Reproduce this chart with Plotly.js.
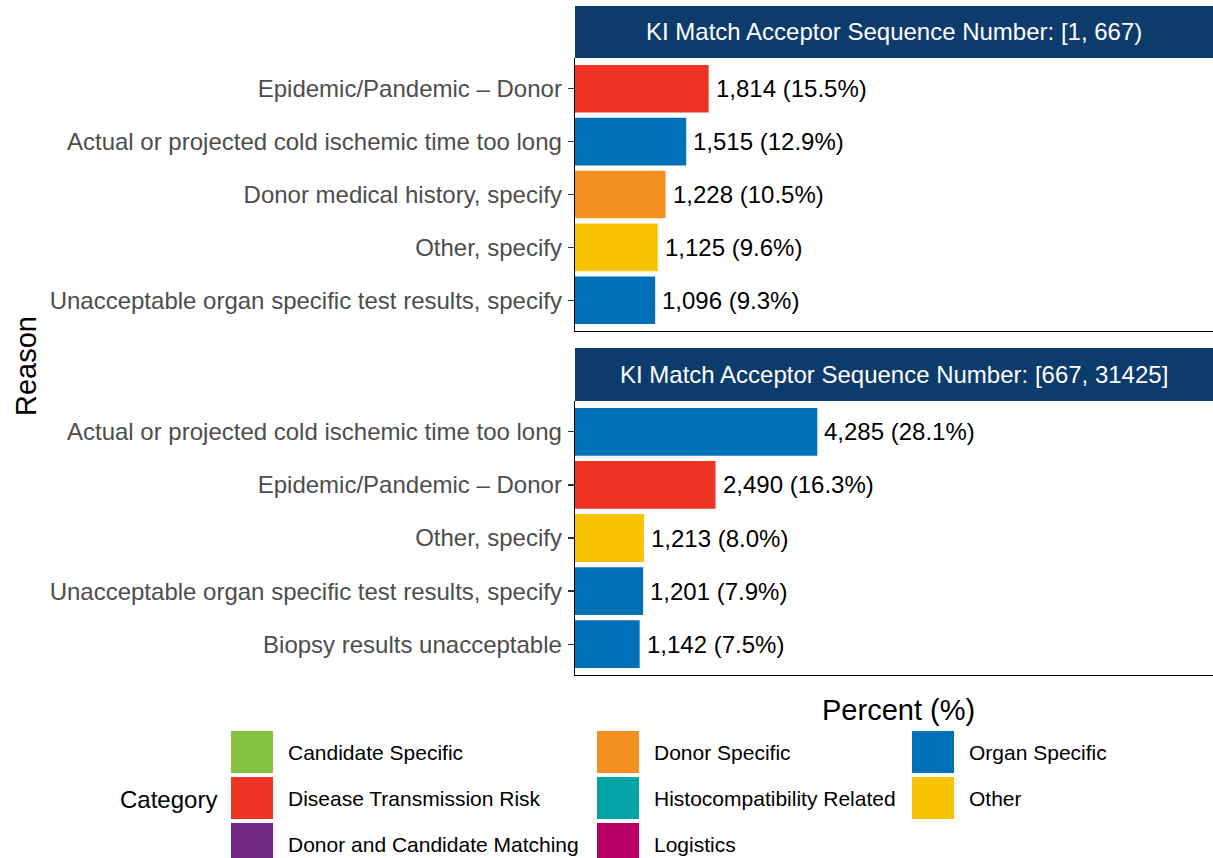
<!DOCTYPE html>
<html>
<head>
<meta charset="utf-8">
<script src="https://cdn.plot.ly/plotly-3.0.1.min.js"></script>
<style>html,body{margin:0;padding:0;background:#fff;}#chart{width:1213px;height:858px;}</style>
</head>
<body>
<div id="chart"></div>
<script>
// ---- Data ----
const panelTitles = [
  "KI Match Acceptor Sequence Number: [1, 667)",
  "KI Match Acceptor Sequence Number: [667, 31425]"
];
const reasons1 = [
  "Epidemic/Pandemic \u2013 Donor",
  "Actual or projected cold ischemic time too long",
  "Donor medical history, specify",
  "Other, specify",
  "Unacceptable organ specific test results, specify"
];
const counts1 = [1814, 1515, 1228, 1125, 1096];
const percents1 = [15.5, 12.9, 10.5, 9.6, 9.3];
const cats1 = ["Disease Transmission Risk", "Organ Specific", "Donor Specific", "Other", "Organ Specific"];

const reasons2 = [
  "Actual or projected cold ischemic time too long",
  "Epidemic/Pandemic \u2013 Donor",
  "Other, specify",
  "Unacceptable organ specific test results, specify",
  "Biopsy results unacceptable"
];
const counts2 = [4285, 2490, 1213, 1201, 1142];
const percents2 = [28.1, 16.3, 8.0, 7.9, 7.5];
const cats2 = ["Organ Specific", "Disease Transmission Risk", "Other", "Organ Specific", "Organ Specific"];

const legendCategories = [
  "Candidate Specific", "Disease Transmission Risk", "Donor and Candidate Matching",
  "Donor Specific", "Histocompatibility Related", "Logistics",
  "Organ Specific", "Other"
];
const legendColors = [
  "#84C341", "#EF3424", "#712783",
  "#F39020", "#00A4A4", "#B70067",
  "#0070B9", "#F8C300"
];

// ---- Build ----
const W = 1213, H = 858;
const FONT = "Liberation Sans, Arial, Helvetica, sans-serif";
const px = v => v / W;
const py = v => 1 - v / H;
const colorOf = c => legendColors[legendCategories.indexOf(c)];
const fmt = (n, p) => n.toLocaleString('en-US') + " (" + p.toFixed(1) + "%)";

const traces = [
  {type: 'bar', orientation: 'h', x: percents1, y: reasons1, xaxis: 'x', yaxis: 'y',
   marker: {color: cats1.map(colorOf), line: {width: 0}}, width: 0.9, hoverinfo: 'x+y', showlegend: false},
  {type: 'bar', orientation: 'h', x: percents2, y: reasons2, xaxis: 'x2', yaxis: 'y2',
   marker: {color: cats2.map(colorOf), line: {width: 0}}, width: 0.9, hoverinfo: 'x+y', showlegend: false}
];

const xdom = [px(575), 1];
const y1dom = [py(331), py(58)];
const y2dom = [py(675), py(401)];
const xRange = [0, 74];
const yRange = [4.58, -0.58];

const yaxisCommon = {
  type: 'category', categoryorder: 'array', range: yRange,
  showline: true, linecolor: '#000', linewidth: 1.3,
  ticks: 'outside', ticklen: 6, tickcolor: '#333', tickwidth: 1.3,
  tickfont: {family: FONT, size: 24, color: '#4d4d4d'},
  ticklabelstandoff: 1,
  showgrid: false, zeroline: false, fixedrange: true
};
const xaxisCommon = {
  domain: xdom, range: xRange, showline: true, linecolor: '#000', linewidth: 1.3,
  showticklabels: false, ticks: '', showgrid: false, zeroline: false, fixedrange: true
};

const annotations = [];
reasons1.forEach((r, i) => annotations.push({
  xref: 'x', yref: 'y', x: percents1[i], y: r, text: fmt(counts1[i], percents1[i]),
  showarrow: false, xanchor: 'left', yanchor: 'middle', xshift: 5,
  font: {family: FONT, size: 24, color: '#000'}
}));
reasons2.forEach((r, i) => annotations.push({
  xref: 'x2', yref: 'y2', x: percents2[i], y: r, text: fmt(counts2[i], percents2[i]),
  showarrow: false, xanchor: 'left', yanchor: 'middle', xshift: 5,
  font: {family: FONT, size: 24, color: '#000'}
}));

const shapes = [];
const strips = [[6, 58], [348, 401]];
strips.forEach((s, i) => {
  shapes.push({type: 'rect', xref: 'paper', yref: 'paper', x0: px(575), x1: 1, y0: py(s[1]), y1: py(s[0]),
    fillcolor: '#0C3B6C', line: {width: 0}, layer: 'above'});
  annotations.push({xref: 'paper', yref: 'paper', x: (px(575) + 1) / 2, y: py((s[0] + s[1]) / 2),
    text: panelTitles[i], showarrow: false, xanchor: 'center', yanchor: 'middle',
    font: {family: FONT, size: 24, color: '#fff'}});
});

// axis titles
annotations.push({xref: 'paper', yref: 'paper', x: px(26), y: py(366), text: 'Reason', textangle: -90,
  showarrow: false, xanchor: 'center', yanchor: 'middle', font: {family: FONT, size: 29, color: '#000'}});
annotations.push({xref: 'paper', yref: 'paper', x: px(898), y: py(710), text: 'Percent (%)',
  showarrow: false, xanchor: 'center', yanchor: 'middle', font: {family: FONT, size: 29, color: '#000'}});

// legend (3 columns, column-major)
annotations.push({xref: 'paper', yref: 'paper', x: px(118), y: py(799), text: 'Category',
  showarrow: false, xanchor: 'left', yanchor: 'middle', font: {family: FONT, size: 24, color: '#000'}});
const colX = [231, 597, 912];
const rowY = [731, 777, 823];
const key = 42;
legendCategories.forEach((c, i) => {
  const col = Math.floor(i / 3), row = i % 3;
  const x0 = colX[col], y0 = rowY[row];
  shapes.push({type: 'rect', xref: 'paper', yref: 'paper', x0: px(x0), x1: px(x0 + key),
    y0: py(y0 + key), y1: py(y0), fillcolor: legendColors[i], line: {width: 0}});
  annotations.push({xref: 'paper', yref: 'paper', x: px(x0 + key + 13), y: py(y0 + key / 2), text: c,
    showarrow: false, xanchor: 'left', yanchor: 'middle', font: {family: FONT, size: 21, color: '#000'}});
});

const layout = {
  width: W, height: H, margin: {l: 0, r: 0, t: 0, b: 0},
  paper_bgcolor: '#fff', plot_bgcolor: '#fff', showlegend: false, bargap: 0.1,
  xaxis: Object.assign({}, xaxisCommon, {anchor: 'y'}),
  xaxis2: Object.assign({}, xaxisCommon, {anchor: 'y2'}),
  yaxis: Object.assign({}, yaxisCommon, {domain: y1dom, anchor: 'x', categoryarray: reasons1}),
  yaxis2: Object.assign({}, yaxisCommon, {domain: y2dom, anchor: 'x2', categoryarray: reasons2}),
  annotations: annotations, shapes: shapes
};

Plotly.newPlot('chart', traces, layout, {displayModeBar: false, staticPlot: true});
</script>
</body>
</html>
